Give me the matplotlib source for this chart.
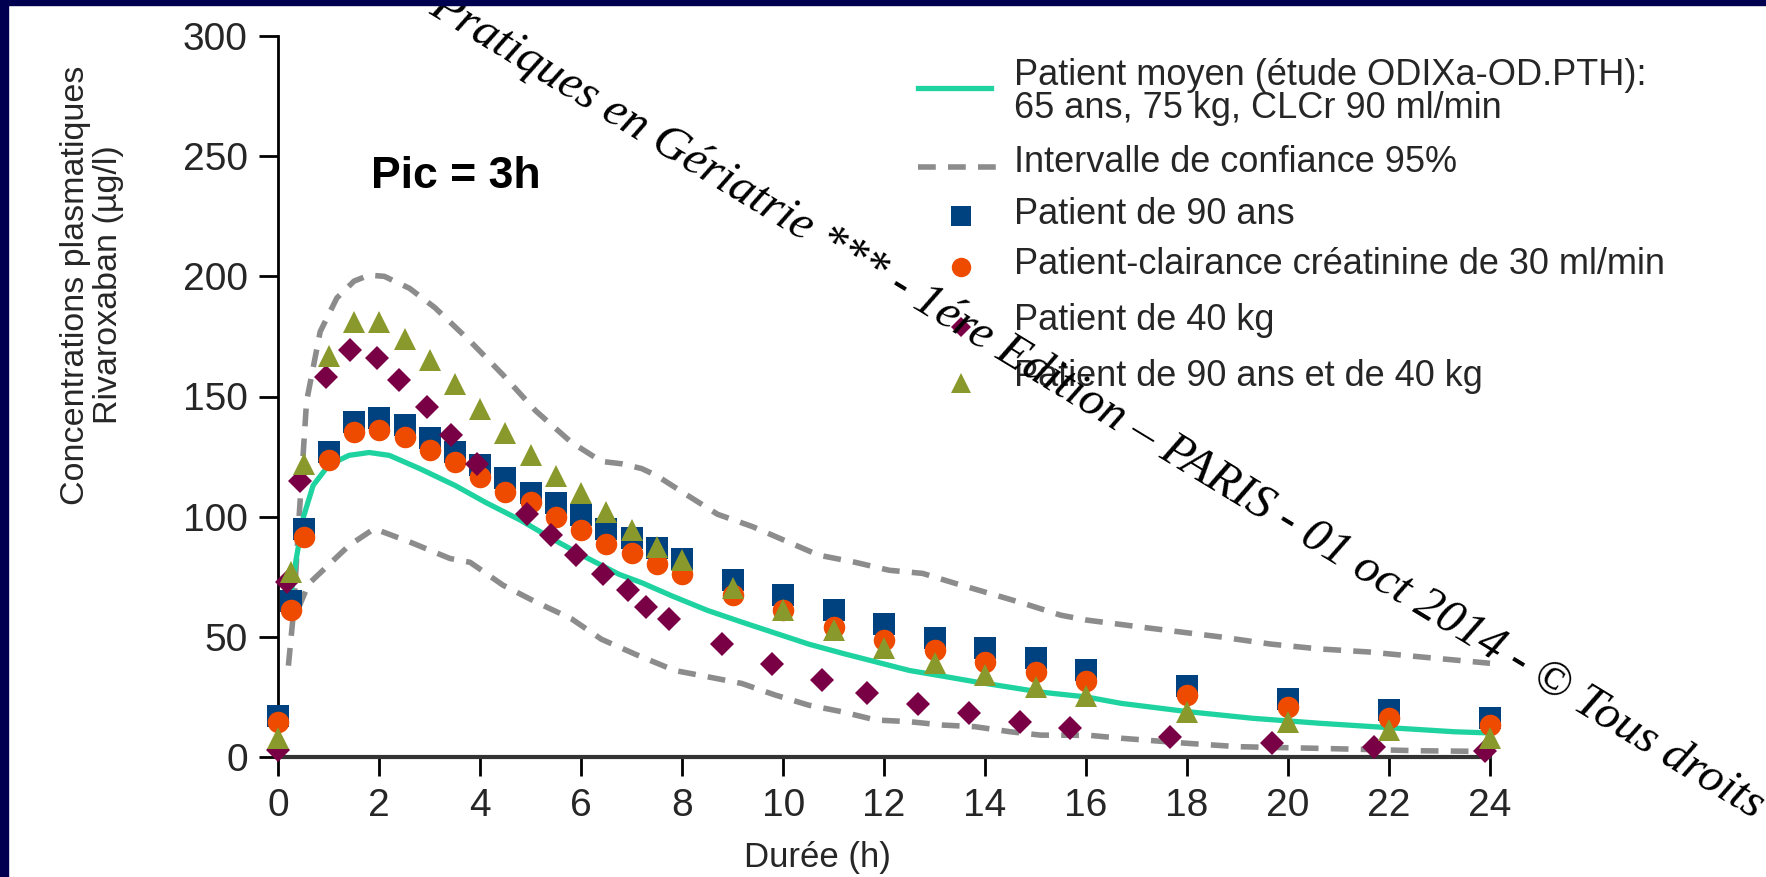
import matplotlib
matplotlib.use("Agg")
import matplotlib.pyplot as plt
from matplotlib.lines import Line2D
from matplotlib.patches import Rectangle

# --- données ---
t_obs = [0, 0.25, 0.5, 1, 1.5, 2, 2.5, 3, 3.5, 4, 4.5, 5, 5.5, 6, 6.5, 7, 7.5, 8,
         9, 10, 11, 12, 13, 14, 15, 16, 18, 20, 22, 24]
c_90ans = [17, 65, 95, 127, 139.5, 141, 138, 132.6, 127, 121.5, 116, 110, 105.5, 100.6,
           95, 91, 87, 82.5, 73.6, 67.4, 61, 55.2, 49.6, 45.2, 41, 36.3, 29.5, 24, 19.4, 16.2]
c_clcr30 = [14.5, 61, 91.6, 123.6, 135.4, 136, 133, 127.7, 122.9, 116.6, 110.4, 106.2, 100,
            94.4, 88.8, 84.7, 80.5, 76, 67.4, 61, 54.2, 48.7, 44.5, 39.7, 35.5, 31.6, 25.8,
            20.9, 16.1, 13.3]
c_90ans_40kg = [8, 77, 122, 167, 181, 181, 174, 165, 155, 145, 135, 125.6, 117, 110, 102,
                94.4, 87.5, 82, 70.2, 61.2, 52.8, 45.2, 39, 34, 29.3, 25.4, 18.9, 14.7, 11.2, 7.8]

t_40kg = [0, 0.17, 0.43, 0.95, 1.42, 1.95, 2.4, 2.94, 3.43, 3.93, 4.92, 5.41, 5.9, 6.43,
          6.93, 7.28, 7.74, 8.78, 9.78, 10.77, 11.66, 12.68, 13.68, 14.69, 15.68, 17.67,
          19.68, 21.7, 23.9]
c_40kg = [3, 73, 115, 158, 169.4, 166, 157, 145.8, 134, 122, 101.3, 92.3, 84, 76.3, 69.4,
          62.5, 57.5, 46.9, 38.6, 32, 26.5, 22, 18.2, 14.7, 11.9, 8.2, 5.9, 4.0, 2.6]

t_moyen = [0.2, 0.26, 0.36, 0.5, 0.69, 1.0, 1.4, 1.8, 2.2, 2.8, 3.5, 4.1, 4.8, 5.45, 6.1,
           6.75, 7.2, 7.8, 8.5, 9.2, 9.85, 10.5, 11.2, 11.85, 12.5, 13.2, 13.8, 14.5, 15.1,
           16.0, 16.7, 18.0, 19.3, 20.65, 22.0, 23.3, 24.0]
c_moyen = [62, 69, 83, 100, 113, 121.5, 125.5, 126.7, 125.5, 120, 113, 106, 98.5, 90.5, 83,
           76, 72.5, 67, 61, 56, 51.5, 47, 43, 39.5, 36, 33.5, 31.3, 29, 27, 25, 22.3, 18.9,
           16.1, 14, 12.2, 10.5, 10]

t_ic_haut = [0.2, 0.3, 0.4, 0.56, 0.83, 1.16, 1.5, 1.8, 2.1, 2.6, 3.1, 3.8, 4.45, 5.1, 5.8,
             6.4, 6.8, 7.2, 7.5, 8.05, 8.7, 9.4, 10.04, 10.7, 11.43, 12.1, 12.76, 13.4, 14.1,
             14.75, 15.5, 16.0, 17.3, 18.65, 19.65, 20.6, 21.6, 22.6, 24.0]
c_ic_haut = [38, 60, 96, 148, 177, 191, 198, 200.5, 200, 195, 187, 173, 159, 144, 131, 123,
             122, 120, 117, 109.6, 101, 95.8, 90, 84, 81, 77.7, 76.4, 72.3, 68, 64, 59, 57,
             53.5, 50, 47, 45, 43.7, 41.7, 39]

t_ic_bas = [0.4, 0.6, 1.0, 1.4, 1.9, 2.6, 3.4, 3.8, 4.45, 5.1, 5.8, 6.4, 7.1, 7.85, 8.5,
            9.18, 9.84, 10.5, 11.17, 11.83, 12.5, 13.15, 13.8, 14.5, 15.1, 16.07, 16.7, 18.0,
            19.0, 20.6, 22.6, 24.0]
c_ic_bas = [62, 72, 80, 88, 95, 89.5, 82.6, 81, 71.5, 64.5, 57.6, 49, 42.5, 36, 33.4, 30.6,
            25.8, 21.6, 18.8, 15.4, 14.7, 13.3, 12.6, 10.5, 9.1, 9, 7.8, 5.7, 4.3, 3.6, 2.6, 2.3]

x_ticks = list(range(0, 25, 2))
y_ticks = list(range(0, 301, 50))

lbl_moyen = "Patient moyen (étude ODIXa-OD.PTH):\n65 ans, 75 kg, CLCr 90 ml/min"
lbl_ic = "Intervalle de confiance 95%"
lbl_90 = "Patient de 90 ans"
lbl_clcr = "Patient-clairance créatinine de 30 ml/min"
lbl_40 = "Patient de 40 kg"
lbl_90_40 = "Patient de 90 ans et de 40 kg"
filigrane = ("Pratiques en Gériatrie *** - 1ére Edition – PARIS - 01 oct 2014 - "
             "© Tous droits réservés")

# couleurs
VERT = "#1ed3a0"
GRIS = "#8c8c8c"
BLEU = "#00427f"
ORANGE = "#ee4a00"
VIOLET = "#7a0046"
OLIVE = "#8a992b"
TEXTE = "#262626"

plt.rcParams["font.family"] = ["Liberation Sans", "DejaVu Sans"]

W, H = 1766, 877
fig = plt.figure(figsize=(W / 100, H / 100), dpi=100)
fig.patch.set_facecolor("white")


def fx(x):
    return x / W


def fy(y):
    return 1 - y / H


ax = fig.add_axes([fx(278.3), fy(757), fx(1490) - fx(278.3), fy(36) - fy(757)])

ax.plot(t_ic_haut, c_ic_haut, color=GRIS, lw=4, dashes=(3.2, 2.2), zorder=2,
        clip_on=False)
ax.plot(t_ic_bas, c_ic_bas, color=GRIS, lw=4, dashes=(3.2, 2.2), zorder=2,
        clip_on=False)
ax.plot(t_moyen, c_moyen, color=VERT, lw=3.8, zorder=2.5, clip_on=False)

ax.plot(t_obs, c_90ans, ls="none", marker="s", ms=16, mew=0, color=BLEU, zorder=3,
        clip_on=False)
ax.plot(t_obs, c_clcr30, ls="none", marker="o", ms=15.5, mew=0, color=ORANGE, zorder=4,
        clip_on=False)
ax.plot(t_40kg, c_40kg, ls="none", marker="D", ms=12, mew=0, color=VIOLET, zorder=5,
        clip_on=False)
ax.plot(t_obs, c_90ans_40kg, ls="none", marker="^", ms=16, mew=0, color=OLIVE, zorder=6,
        clip_on=False)

ax.set_xlim(0, 24)
ax.set_ylim(0, 300)
ax.set_xticks(x_ticks)
ax.set_yticks(y_ticks)
for s in ("top", "right"):
    ax.spines[s].set_visible(False)
ax.spines["left"].set_linewidth(2)
ax.spines["left"].set_color("black")
ax.spines["bottom"].set_linewidth(3)
ax.spines["bottom"].set_color("#333333")
ax.tick_params(axis="both", direction="out", length=14, width=2, color="black",
               labelsize=28, labelcolor=TEXTE)
ax.tick_params(axis="y", pad=8)
ax.tick_params(axis="x", pad=8)
ax.set_facecolor("none")

# titres des axes
fig.text(fx(92), fy(285), "Concentrations plasmatiques\nRivaroxaban (µg/l)",
         rotation=90, ha="center", va="center", fontsize=24.5, color=TEXTE,
         linespacing=1.1, multialignment="center")
fig.text(fx(817), fy(857), "Durée (h)", ha="center", va="center", fontsize=25,
         color=TEXTE)
fig.text(fx(456), fy(177), "Pic = 3h", ha="center", va="center", fontsize=32,
         fontweight="bold", color="black")

# légende dessinée à la main
fig.add_artist(Line2D([fx(918), fx(991)], [fy(88), fy(88)], color=VERT, lw=3.8,
                      transform=fig.transFigure))
fig.add_artist(Line2D([fx(918), fx(997)], [fy(167), fy(167)], color=GRIS, lw=4,
                      dashes=(3.2, 2.2), transform=fig.transFigure))
leg_mk = [("s", BLEU, 15, 216), ("o", ORANGE, 14, 267), ("D", VIOLET, 10.5, 327),
          ("^", OLIVE, 14, 383)]
for mk, col, ms, y in leg_mk:
    fig.add_artist(Line2D([fx(961)], [fy(y)], ls="none", marker=mk, ms=ms, mew=0,
                          color=col, transform=fig.transFigure))

leg_txt = [(lbl_moyen, 92), (lbl_ic, 163), (lbl_90, 214), (lbl_clcr, 265),
           (lbl_40, 321), (lbl_90_40, 377)]
for txt, y in leg_txt:
    fig.text(fx(1014), fy(y), txt, ha="left", va="center", fontsize=26, color=TEXTE,
             linespacing=0.9)

# filigrane
fig.text(fx(434), fy(2), filigrane, rotation=-31.3, rotation_mode="anchor",
         ha="left", va="center", fontsize=35, style="italic",
         family=["Liberation Serif", "DejaVu Serif"], color="black", zorder=20)

# bordures bleu nuit
fig.add_artist(Rectangle((0, 0), fx(8), 1, transform=fig.transFigure,
                         color="#000050", zorder=30))
fig.add_artist(Rectangle((0, fy(5)), 1, 5 / H, transform=fig.transFigure,
                         color="#000050", zorder=30))

fig.savefig("out.png", dpi=100)
